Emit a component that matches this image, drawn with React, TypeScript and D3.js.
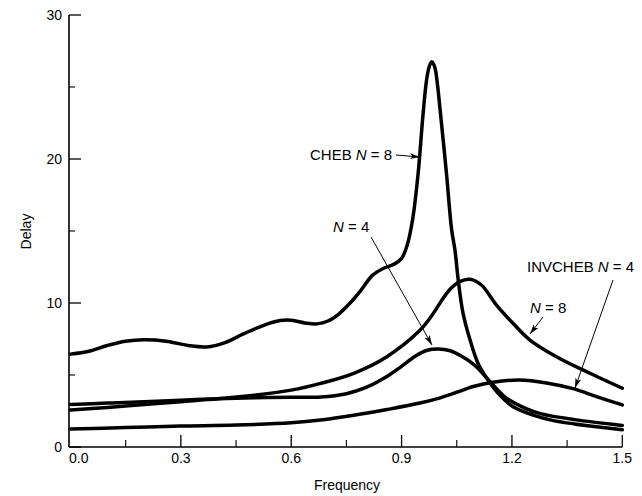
import React from "react";
import * as d3 from "d3";

// ---------- data ----------
const freqCheb8 = [0.0, 0.05, 0.1, 0.15, 0.2, 0.26, 0.32, 0.37, 0.42, 0.47, 0.52, 0.57, 0.6, 0.64, 0.67, 0.7, 0.73, 0.76, 0.79, 0.82, 0.85, 0.88, 0.9, 0.915, 0.93, 0.945, 0.958, 0.968, 0.975, 0.982, 0.99, 0.997, 1.004, 1.022, 1.036, 1.045, 1.054, 1.067, 1.086, 1.108, 1.135, 1.167, 1.203, 1.26, 1.31, 1.37, 1.43, 1.5];
const delayCheb8 = [6.45, 6.65, 7.05, 7.35, 7.45, 7.35, 7.05, 6.95, 7.25, 7.85, 8.4, 8.78, 8.8, 8.6, 8.55, 8.75, 9.25, 10.0, 10.9, 11.9, 12.4, 12.7, 13.1, 14.0, 15.8, 19.0, 23.0, 25.5, 26.4, 26.75, 26.4, 25.3, 23.6, 19.0, 15.1, 13.7, 11.6, 9.3, 7.45, 5.8, 4.65, 3.6, 2.8, 2.2, 1.85, 1.6, 1.4, 1.2];

const freqCheb4 = [0.0, 0.1, 0.2, 0.3, 0.4, 0.5, 0.6, 0.68, 0.75, 0.8, 0.86, 0.9, 0.94, 0.97, 1.0, 1.03, 1.06, 1.1, 1.14, 1.185, 1.24, 1.28, 1.37, 1.5];
const delayCheb4 = [2.95, 3.05, 3.15, 3.25, 3.35, 3.42, 3.45, 3.47, 3.7, 4.1, 4.9, 5.6, 6.35, 6.72, 6.8, 6.7, 6.35, 5.65, 4.55, 3.4, 2.65, 2.3, 1.9, 1.5];

const freqInv8 = [0.0, 0.1, 0.2, 0.3, 0.4, 0.5, 0.6, 0.68, 0.77, 0.86, 0.95, 0.977, 1.03, 1.058, 1.086, 1.117, 1.158, 1.203, 1.249, 1.321, 1.412, 1.5];
const delayInv8 = [2.57, 2.75, 2.95, 3.15, 3.35, 3.6, 3.95, 4.42, 5.12, 6.27, 8.1, 8.94, 10.9, 11.48, 11.65, 11.25, 9.86, 8.59, 7.43, 6.27, 5.12, 4.08];

const freqInv4 = [0.0, 0.15, 0.3, 0.45, 0.6, 0.68, 0.77, 0.86, 0.95, 1.0, 1.05, 1.095, 1.149, 1.22, 1.294, 1.366, 1.43, 1.5];
const delayInv4 = [1.25, 1.35, 1.45, 1.52, 1.68, 1.87, 2.2, 2.6, 3.05, 3.38, 3.8, 4.2, 4.5, 4.65, 4.45, 4.05, 3.5, 2.92];

const xMajorTicks = [0.0, 0.3, 0.6, 0.9, 1.2, 1.5];
const xMinorTicks = [0.15, 0.45, 0.75, 1.05, 1.35];
const yMajorTicks = [0, 10, 20, 30];
const yMinorTicks = [5, 15, 25];

const W = 642;
const H = 496;

export default function App() {
  const x = d3.scaleLinear().domain([0, 1.5]).range([70.5, 622.3]);
  const y = d3.scaleLinear().domain([0, 30]).range([447, 15]);
  const axisX = 69;
  const axisY = 447;

  const line = d3
    .line<[number, number]>()
    .x((d) => x(d[0]))
    .y((d) => y(d[1]))
    .curve(d3.curveCatmullRom.alpha(0.5));

  const series = [
    { f: freqCheb8, v: delayCheb8 },
    { f: freqCheb4, v: delayCheb4 },
    { f: freqInv8, v: delayInv8 },
    { f: freqInv4, v: delayInv4 },
  ];

  const font = "'Liberation Sans', Arial, Helvetica, sans-serif";

  return (
    <svg
      width={W}
      height={H}
      viewBox={`0 0 ${W} ${H}`}
      style={{ position: "absolute", left: 0, top: 0, background: "#fff" }}
      fontFamily={font}
    >
      <defs>
        <marker
          id="arrow"
          viewBox="0 0 10 6"
          refX="10"
          refY="3"
          markerWidth="10"
          markerHeight="6"
          markerUnits="userSpaceOnUse"
          orient="auto"
        >
          <path d="M0,0 L10,3 L0,6 L2.5,3 Z" fill="#000" />
        </marker>
      </defs>
      <rect x={0} y={0} width={W} height={H} fill="#fff" />

      {/* axes */}
      <line x1={axisX} y1={y(30)} x2={axisX} y2={axisY} stroke="#000" strokeWidth={1.6} />
      <line x1={axisX} y1={axisY} x2={x(1.5)} y2={axisY} stroke="#000" strokeWidth={1.6} />

      {yMajorTicks.map((t) => (
        <g key={"ym" + t}>
          <line x1={axisX} x2={axisX + 12} y1={y(t)} y2={y(t)} stroke="#000" strokeWidth={1.3} />
          <text x={62} y={y(t)} dy="0.36em" textAnchor="end" fontSize={14}>
            {t}
          </text>
        </g>
      ))}
      {yMinorTicks.map((t) => (
        <line key={"yn" + t} x1={axisX} x2={axisX + 6} y1={y(t)} y2={y(t)} stroke="#000" strokeWidth={1.1} />
      ))}
      {xMajorTicks.map((t, i) => (
        <g key={"xm" + t}>
          {i > 0 && (
            <line x1={x(t)} x2={x(t)} y1={axisY} y2={axisY - 12} stroke="#000" strokeWidth={1.3} />
          )}
          <text
            x={i === 0 ? axisX : x(t)}
            y={463}
            textAnchor={i === 0 ? "start" : "middle"}
            fontSize={14}
          >
            {t.toFixed(1)}
          </text>
        </g>
      ))}
      {xMinorTicks.map((t) => (
        <line key={"xn" + t} x1={x(t)} x2={x(t)} y1={axisY} y2={axisY - 7} stroke="#000" strokeWidth={1.1} />
      ))}

      <text x={347} y={490} textAnchor="middle" fontSize={14}>
        Frequency
      </text>
      <text
        transform={`translate(31,231.5) rotate(-90)`}
        textAnchor="middle"
        fontSize={14}
      >
        Delay
      </text>

      {/* curves */}
      {series.map((s, i) => (
        <path
          key={i}
          d={line(s.f.map((f, j) => [f, s.v[j]] as [number, number])) || ""}
          fill="none"
          stroke="#000"
          strokeWidth={3.5}
          strokeLinejoin="round"
          strokeLinecap="round"
        />
      ))}

      {/* annotations */}
      <text x={310} y={159.5} fontSize={15}>
        CHEB <tspan fontStyle="italic">N</tspan> = 8
      </text>
      <line x1={396} y1={155} x2={420} y2={157} stroke="#000" strokeWidth={1} markerEnd="url(#arrow)" />

      <text x={333} y={231.5} fontSize={15}>
        <tspan fontStyle="italic">N</tspan> = 4
      </text>
      <line x1={371} y1={237} x2={432} y2={345} stroke="#000" strokeWidth={1} markerEnd="url(#arrow)" />

      <text x={527} y={271.5} fontSize={15}>
        INVCHEB <tspan fontStyle="italic">N</tspan> = 4
      </text>
      <line x1={613} y1={280} x2={575} y2={388} stroke="#000" strokeWidth={1} markerEnd="url(#arrow)" />

      <text x={530} y={313} fontSize={15}>
        <tspan fontStyle="italic">N</tspan> = 8
      </text>
      <line x1={543} y1={317} x2={530} y2={334} stroke="#000" strokeWidth={1} markerEnd="url(#arrow)" />
    </svg>
  );
}
